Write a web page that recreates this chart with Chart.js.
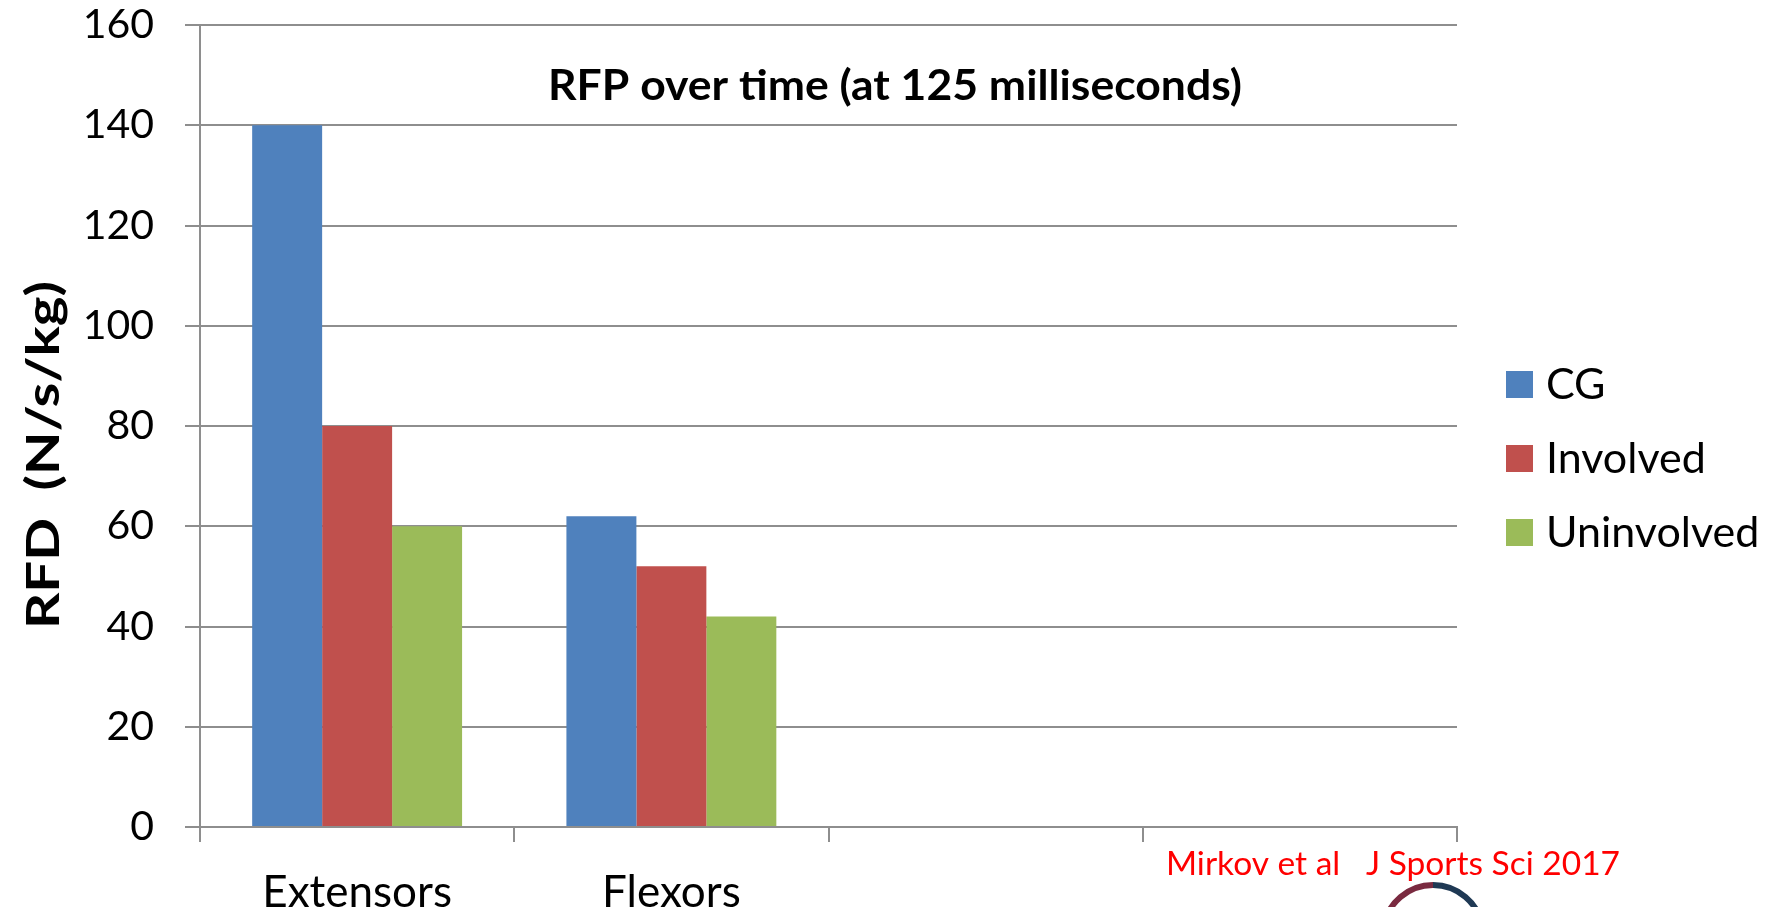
<!DOCTYPE html>
<html>
<head>
<meta charset="utf-8">
<script src="https://cdn.jsdelivr.net/npm/chart.js@4/dist/chart.umd.min.js"></script>
<style>
  html, body { margin: 0; padding: 0; background: #ffffff; overflow: hidden; }
  #wrap { width: 1779px; height: 907px; }
</style>
</head>
<body>
<div id="wrap"><canvas id="chart" width="1779" height="907"></canvas></div>
<script>
// Muscle groups on the x axis (two trailing empty slots keep the original spacing)
const categories = ['Extensors', 'Flexors', '', ''];

// Rate of force development at 125 ms, N/s/kg
const seriesNames = ['CG', 'Involved', 'Uninvolved'];
const cgValues = [140, 62, null, null];
const involvedValues = [80, 52, null, null];
const uninvolvedValues = [60, 42, null, null];

// Value axis
const yTickValues = [0, 20, 40, 60, 80, 100, 120, 140, 160];

const chartTitle = 'RFP over time (at 125 milliseconds)';
const yAxisTitle = 'RFD  (N/s/kg)';
const citation = 'Mirkov et al   J Sports Sci 2017';

const seriesColors = ['#4F81BD', '#C0504D', '#9BBB59'];
const gridGray = '#8e8e8e';
const FONT = 'Lato, "Open Sans", "Liberation Sans", sans-serif';

// Writes text centred on (cx, cy), stretched along its run to a given length
function fittedText(ctx, text, cx, cy, length, angle) {
  const natural = ctx.measureText(text).width;
  ctx.save();
  ctx.translate(cx, cy);
  ctx.rotate(angle || 0);
  ctx.scale(length / natural, 1);
  ctx.textAlign = 'center';
  ctx.textBaseline = 'middle';
  ctx.fillText(text, 0, 0);
  ctx.restore();
}

// Draws the in-plot title, rotated y title, legend, citation and logo ring
const overlayText = {
  id: 'overlayText',
  afterDraw(chart) {
    const ctx = chart.ctx;
    ctx.save();

    // chart title inside the plot
    ctx.fillStyle = '#000';
    ctx.font = 'bold 42px ' + FONT;
    fittedText(ctx, chartTitle, 895, 86, 694);

    // y axis title
    ctx.font = 'bold 46px ' + FONT;
    fittedText(ctx, yAxisTitle, 44, 455, 348, -Math.PI / 2);

    // legend
    ctx.textAlign = 'left';
    ctx.textBaseline = 'middle';
    ctx.font = '43px ' + FONT;
    chart.data.datasets.forEach((ds, i) => {
      const top = 371 + 74 * i;
      ctx.fillStyle = ds.backgroundColor;
      ctx.fillRect(1506, top, 27, 27);
      ctx.fillStyle = '#000';
      ctx.fillText(ds.label, 1546, top + 14);
    });

    // citation
    ctx.fillStyle = '#ff0000';
    ctx.font = '33px ' + FONT;
    const citeWidth = 454;
    fittedText(ctx, citation, 1166 + citeWidth / 2, 864, citeWidth);

    // journal logo ring (partly below the page edge)
    ctx.lineWidth = 6;
    ctx.strokeStyle = '#7a2a40';
    ctx.beginPath();
    ctx.arc(1433, 935, 50, Math.PI * 1.05, Math.PI * 1.5);
    ctx.stroke();
    ctx.strokeStyle = '#1f3954';
    ctx.beginPath();
    ctx.arc(1433, 935, 50, Math.PI * 1.5, Math.PI * 1.95);
    ctx.stroke();

    ctx.restore();
  }
};

const valueSeries = [cgValues, involvedValues, uninvolvedValues];

new Chart(document.getElementById('chart'), {
  type: 'bar',
  data: {
    labels: categories,
    datasets: seriesNames.map((name, i) => ({
      label: name,
      data: valueSeries[i],
      backgroundColor: seriesColors[i],
      borderWidth: 0,
      categoryPercentage: 0.668,
      barPercentage: 1.0
    }))
  },
  options: {
    responsive: false,
    animation: false,
    layout: { padding: { top: 25, right: 322, left: 0, bottom: 0 } },
    plugins: {
      legend: { display: false },
      tooltip: { enabled: false },
      title: { display: false }
    },
    scales: {
      x: {
        afterFit(scale) { scale.height = 80; },
        grid: {
          offset: true,
          drawOnChartArea: false,
          drawTicks: true,
          tickLength: 15,
          color: gridGray,
          lineWidth: 2
        },
        border: { display: true, color: gridGray, width: 2 },
        ticks: {
          color: '#000',
          font: { family: FONT, size: 44 },
          padding: 24,
          maxRotation: 0,
          autoSkip: false
        }
      },
      y: {
        min: yTickValues[0],
        max: yTickValues[yTickValues.length - 1],
        afterFit(scale) {
          scale.width = 200;
          scale.paddingTop = 0;
          scale.paddingBottom = 0;
        },
        afterBuildTicks(scale) { scale.ticks = yTickValues.map(v => ({ value: v })); },
        grid: {
          drawTicks: true,
          tickLength: 15,
          color: gridGray,
          lineWidth: 2
        },
        border: { display: true, color: gridGray, width: 2 },
        ticks: {
          color: '#000',
          font: { family: FONT, size: 41 },
          padding: 31
        }
      }
    }
  },
  plugins: [overlayText]
});
</script>
</body>
</html>
